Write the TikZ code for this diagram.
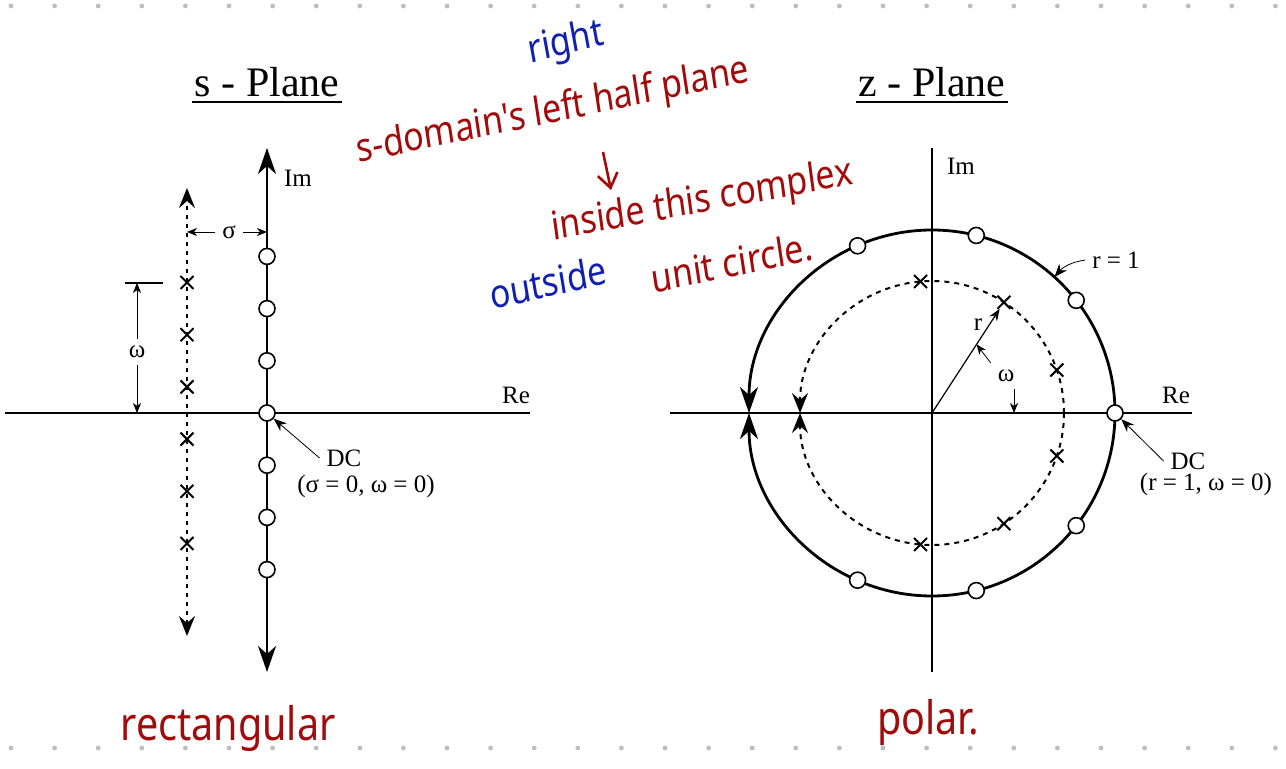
\documentclass[tikz,border=0pt]{standalone}
\usepackage{fontspec}
\setmainfont{Liberation Serif}
\newfontfamily\handfont{Noto Sans}
\usetikzlibrary{arrows.meta,shapes.misc,calc}
\definecolor{inkred}{HTML}{A30A0A}
\definecolor{inkblue}{HTML}{1020B0}
\definecolor{dotgray}{HTML}{BDBDBD}

\begin{document}
\begin{tikzpicture}[x=0.5pt,y=-0.5pt, every node/.style={font=\fontsize{12.5}{14}\selectfont},
  samp/.style={draw,circle,fill=white,line width=0.8pt,minimum size=8pt,inner sep=0pt},
  xmark/.style={draw,cross out,line width=1pt,minimum size=5.5pt,inner sep=0pt},
  title/.style={font=\fontsize{21}{24}\selectfont,anchor=base,inner sep=1pt},
  hand/.style={font=\handfont\fontsize{18}{20}\selectfont,text=inkred,inner sep=0pt,xscale=0.94,yscale=1.1},
  bigtip/.style={-{Stealth[length=13pt,width=9pt,inset=4pt]}},
  dottip/.style={-{Stealth[length=10pt,width=8pt,inset=3.5pt]}},
  dimtip/.style={-{Stealth[length=5pt,width=4pt,inset=1.5pt]}}]
\useasboundingbox (0,0) rectangle (1286,769);
% notebook dots
\foreach \k in {0,...,29} {
  \fill[dotgray] (11+43.6*\k,6) circle (1.2pt);
  \fill[dotgray] (11+43.6*\k,748) circle (1.2pt);
}

% s - plane
\node[title] (stitle) at (267,97) {s - Plane};
\draw[line width=1.2pt] ([yshift=-2.5pt]stitle.base west) -- ([yshift=-2.5pt]stitle.base east);
\coordinate (sretail) at (5,413);
\coordinate (sreend) at (530,413);
\draw[line width=1pt] (sretail) -- (sreend);
\node (sre) at (516,395) {Re};
\coordinate (simbot) at (267,672);
\coordinate (simtop) at (267,148);
\draw[line width=1.3pt,{Stealth[length=13pt,width=9pt,inset=4pt]}-{Stealth[length=13pt,width=9pt,inset=4pt]}] (simbot) -- (simtop);
\node[anchor=west] (sim) at (277,178) {Im};
\coordinate (sigbot) at (187,636);
\coordinate (sigtop) at (187,188);
\draw[line width=1.2pt,dash pattern=on 2.2pt off 2.3pt,{Stealth[length=10pt,width=8pt,inset=3.5pt]}-{Stealth[length=10pt,width=8pt,inset=3.5pt]}] (sigbot) -- (sigtop);
\foreach \k [count=\i] in {-3,...,3}
  \node[samp] (ss\i) at (267,413+52.2*\k) {};
\foreach \k [count=\i] in {-2.5,-1.5,...,2.5}
  \node[xmark] (sx\i) at (187,413+52.2*\k) {};
% sigma
\node (sig) at (229,232) {σ};
\coordinate (sigL) at (187,232);
\coordinate (sigR) at (267,232);
\draw[dimtip] (sig) -- (sigL);
\draw[dimtip] (sig) -- (sigR);
% omega
\coordinate (omtickL) at (125,283);
\coordinate (omtickR) at (163,283);
\draw[line width=0.8pt] (omtickL) -- (omtickR);
\node (om) at (137,352) {ω};
\coordinate (omtop) at (137,283);
\coordinate (ombot) at (137,413);
\draw[dimtip] (om) -- (omtop);
\draw[dimtip] (om) -- (ombot);
% DC
\node (sdc) at (344,458) {DC};
\node (sdcnote) at (366,486) {(σ = 0, ω = 0)};
\draw[-{Stealth[length=6.5pt,width=5pt,inset=2pt]}] (sdc.west) -- (ss4);

% z - plane
\node[title] (ztitle) at (932,97) {z - Plane};
\draw[line width=1.2pt] ([yshift=-2.5pt]ztitle.base west) -- ([yshift=-2.5pt]ztitle.base east);
\coordinate (zc) at (932,413);
\coordinate (zretail) at (670,413);
\coordinate (zreend) at (1192,413);
\draw[line width=1pt] (zretail) -- (zreend);
\node (zre) at (1176,395) {Re};
\coordinate (zimbot) at (932,672);
\coordinate (zimtop) at (932,148);
\draw[line width=1pt] (zimbot) -- (zimtop);
\node (zim) at (961,166) {Im};
% unit circle
\draw[line width=1.4pt,bigtip] ([shift={(0:91.5pt)}]zc) arc[start angle=0,end angle=180,radius=91.5pt];
\draw[line width=1.4pt,bigtip] ([shift={(0:91.5pt)}]zc) arc[start angle=0,end angle=-180,radius=91.5pt];
% dotted circle
\draw[line width=1pt,dash pattern=on 2.5pt off 2.5pt,dottip] ([shift={(0:66pt)}]zc) arc[start angle=0,end angle=180,radius=66pt];
\draw[line width=1pt,dash pattern=on 2.5pt off 2.5pt,dottip] ([shift={(0:66pt)}]zc) arc[start angle=0,end angle=-180,radius=66pt];
\foreach \a [count=\i] in {0,38,76,114,-38,-76,-114}
  \node[samp] (zs\i) at ([shift={(\a:91.5pt)}]zc) {};
\foreach \a [count=\i] in {19,57,95,-19,-57,-95}
  \node[xmark] (zx\i) at ([shift={(\a:66pt)}]zc) {};
% radius and angle
\draw[line width=0.6pt,-{Stealth[length=6pt,width=4.5pt,inset=2pt]}] (zc) -- (zx2);
\node (zr) at (978,325) {r};
\node (zom) at (1006,376) {ω};
\coordinate (zrad) at ($(zc)!0.62!(zx2)$);
\coordinate (zomaxis) at (1014,413);
\draw[dimtip] (zom.north west) -- (zrad);
\draw[dimtip] ([xshift=4pt]zom.south) -- (zomaxis);
% labels
\node (zrone) at (1116,260) {r = 1};
\coordinate (zcirc) at ([shift={(48:91.5pt)}]zc);
\draw[-{Stealth[length=6.5pt,width=5pt,inset=2pt]}] (zrone.west) to[bend right=20] (zcirc);
\node (zdc) at (1188,461) {DC};
\node (zdcnote) at (1206,484) {(r = 1, ω = 0)};
\draw[-{Stealth[length=6.5pt,width=5pt,inset=2pt]}] (zdc.west) -- (zs1);

% handwritten notes
\node[hand,text=inkblue,rotate=12] (right) at (566,44) {right};
\node[hand,rotate=10] (sdomain) at (553,112) {s-domain's left half plane};
\coordinate (maparrtail) at (603,152);
\coordinate (maparrtip) at (611,190);
\draw[inkred,line width=1.3pt,-{Straight Barb[length=7pt,width=10pt]}] (maparrtail) -- (maparrtip);
\node[hand,rotate=9] (inside) at (702,202) {inside this complex};
\node[hand,text=inkblue,rotate=11] (outside) at (548,282) {outside};
\node[hand,rotate=10] (unitc) at (732,262) {unit circle.};
\node[hand,font=\handfont\fontsize{21}{24}\selectfont] (rect) at (228,728) {rectangular};
\node[hand,font=\handfont\fontsize{21}{24}\selectfont] (polar) at (928,722) {polar.};
\end{tikzpicture}
\end{document}
